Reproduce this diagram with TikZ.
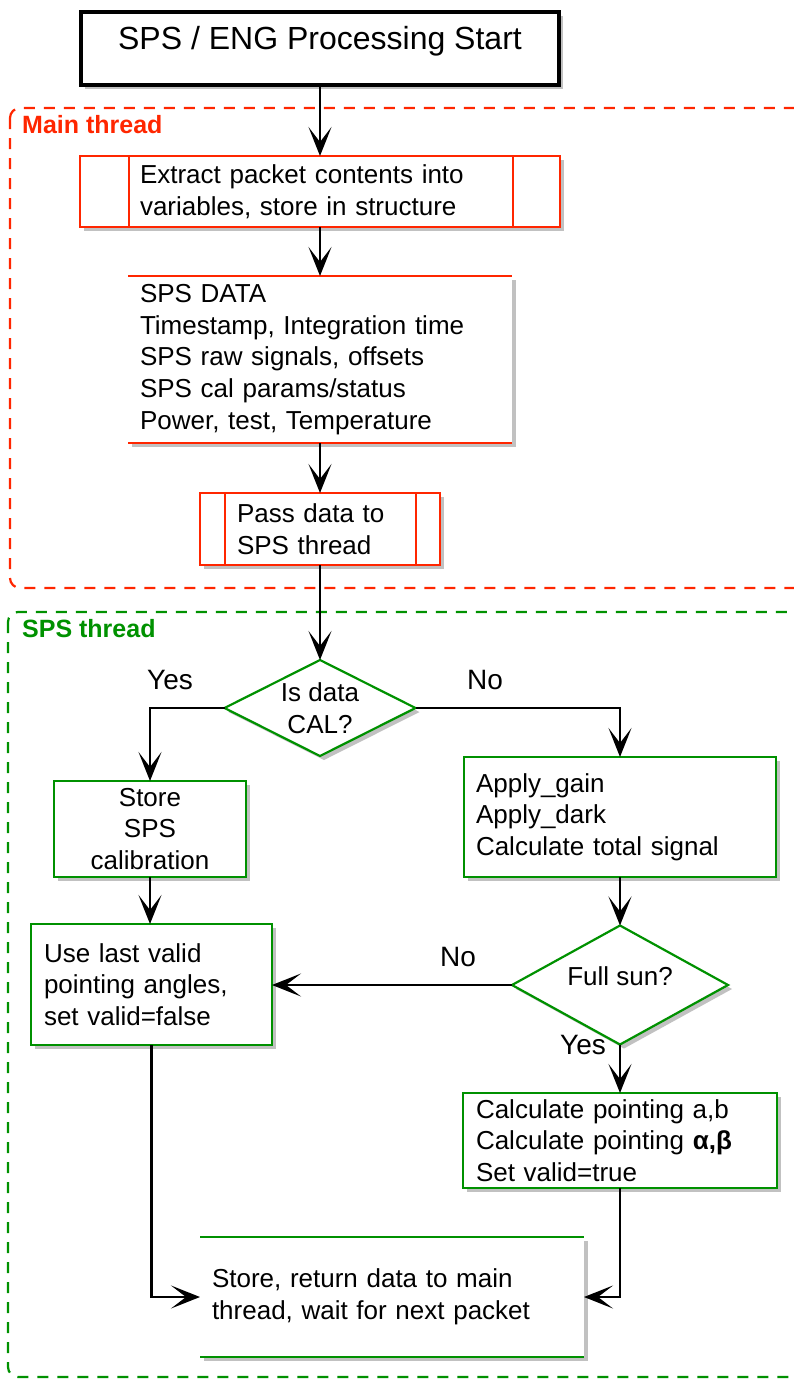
\documentclass[tikz,border=0pt]{standalone}
\usepackage{fontspec}
\setmainfont{Liberation Sans}
\usetikzlibrary{arrows.meta,shapes.geometric,shadows}
\definecolor{threadred}{RGB}{255,38,0}
\definecolor{threadgreen}{RGB}{0,145,0}
\begin{document}
\begin{tikzpicture}[x=1pt,y=-1pt,
  body/.style={font=\fontsize{26}{31.7}\selectfont},
  boxshadow/.style={drop shadow={shadow xshift=4pt,shadow yshift=-4pt,opacity=0.35,fill=black!70}},
  redbox/.style={draw=threadred,line width=2.2pt,fill=white,boxshadow,inner sep=0pt,outer sep=0pt,body},
  greenbox/.style={draw=threadgreen,line width=2.2pt,fill=white,boxshadow,inner sep=0pt,outer sep=0pt,body},
  plainbox/.style={fill=white,boxshadow,inner sep=0pt,outer sep=0pt,body},
  decision/.style={diamond,draw=threadgreen,line width=2.2pt,fill=white,boxshadow,inner sep=0pt,outer sep=0pt,aspect=2,body,align=center},
  flow/.style={line width=2.6pt,-{Stealth[length=29pt,width=23pt,inset=15pt]}},
  lane/.style={line width=2.2pt,dash pattern=on 11pt off 9pt,rounded corners=10pt},
  lanelabel/.style={font=\fontsize{25}{30}\selectfont\bfseries,anchor=west,inner sep=0pt},
  answer/.style={font=\fontsize{28}{33}\selectfont,inner sep=0pt}
]
\useasboundingbox (0,0) rectangle (794,1379);
\clip (0,0) rectangle (794,1379);

% thread containers
\draw[lane,threadred] (10,108) rectangle (804,588);
\draw[lane,threadgreen] (8,612) rectangle (804,1377);
\node[lanelabel,text=threadred] (mainlbl) at (22,125) {Main thread};
\node[lanelabel,text=threadgreen] (spslbl) at (22,629) {SPS thread};

% main thread
\node[draw=black,line width=4.5pt,fill=white,boxshadow,inner sep=0pt,outer sep=0pt,
      minimum width=478pt,minimum height=73pt,font=\fontsize{32}{38}\selectfont,
      text height=24pt,text depth=22pt] (start) at (320,48.5) {SPS / ENG Processing Start};

\node[redbox,minimum width=480pt,minimum height=71pt,text width=360pt,align=left]
  (ext) at (320,191.5) {Extract packet contents into\\variables, store in structure};
\draw[threadred,line width=2.2pt] ([xshift=49pt]ext.north west) -- ([xshift=49pt]ext.south west);
\draw[threadred,line width=2.2pt] ([xshift=-47pt]ext.north east) -- ([xshift=-47pt]ext.south east);

\node[plainbox,minimum width=384pt,minimum height=167pt,text width=360pt,align=left]
  (data) at (320,359.5) {SPS DATA\\Timestamp, Integration time\\SPS raw signals, offsets\\SPS cal params/status\\Power, test, Temperature};
\draw[threadred,line width=2.2pt] (data.north west) -- (data.north east);
\draw[threadred,line width=2.2pt] (data.south west) -- (data.south east);

\node[redbox,minimum width=240pt,minimum height=72pt,text width=166pt,align=left]
  (pass) at (320,529) {Pass data to\\SPS thread};
\draw[threadred,line width=2.2pt] ([xshift=25pt]pass.north west) -- ([xshift=25pt]pass.south west);
\draw[threadred,line width=2.2pt] ([xshift=-24pt]pass.north east) -- ([xshift=-24pt]pass.south east);

% SPS thread
\node[decision,minimum width=191pt,minimum height=96pt] (cal) at (320,708) {Is data\\CAL?};

\node[greenbox,minimum width=192pt,minimum height=96pt,align=center]
  (store) at (150,829) {Store\\SPS\\calibration};

\node[greenbox,minimum width=312pt,minimum height=120pt,text width=288pt,align=left]
  (apply) at (620,817) {Apply\_gain\\Apply\_dark\\Calculate total signal};

\node[greenbox,minimum width=241pt,minimum height=121pt,text width=215pt,align=left]
  (use) at (151.5,984.5) {Use last valid\\pointing angles,\\set valid=false};

\node[decision,minimum width=216pt,minimum height=119pt,text depth=18pt] (sun) at (620,985) {Full sun?};

\node[greenbox,minimum width=314pt,minimum height=95pt,text width=288pt,align=left]
  (calc) at (620,1140.5) {Calculate pointing a,b\\Calculate pointing \textbf{α,β}\\Set valid=true};

\node[plainbox,minimum width=384pt,minimum height=120pt,text width=360pt,align=left]
  (ret) at (392,1297) {Store, return data to main\\thread, wait for next packet};
\draw[threadgreen,line width=2.2pt] (ret.north west) -- (ret.north east);
\draw[threadgreen,line width=2.2pt] (ret.south west) -- (ret.south east);

% connectors
\draw[flow] (start) -- (ext);
\draw[flow] (ext) -- (data);
\draw[flow] (data) -- (pass);
\draw[flow] (pass) -- (cal);
\draw[flow] (cal.west) -| (store.north);
\draw[flow] (cal.east) -| (apply.north);
\draw[flow] (store.south) -- (store.south |- use.north);
\draw[flow] (apply) -- (sun);
\draw[flow] (sun.west) -- (sun.west -| use.east);
\draw[flow] (sun) -- (calc);
\draw[flow] (use.south) |- (ret.west);
\draw[flow] (calc.south) |- (ret.east);

% branch labels
\node[answer] (yes1) at (170,680) {Yes};
\node[answer] (no1) at (485,680) {No};
\node[answer] (no2) at (458,957) {No};
\node[answer] (yes2) at (583,1045) {Yes};
\end{tikzpicture}
\end{document}
